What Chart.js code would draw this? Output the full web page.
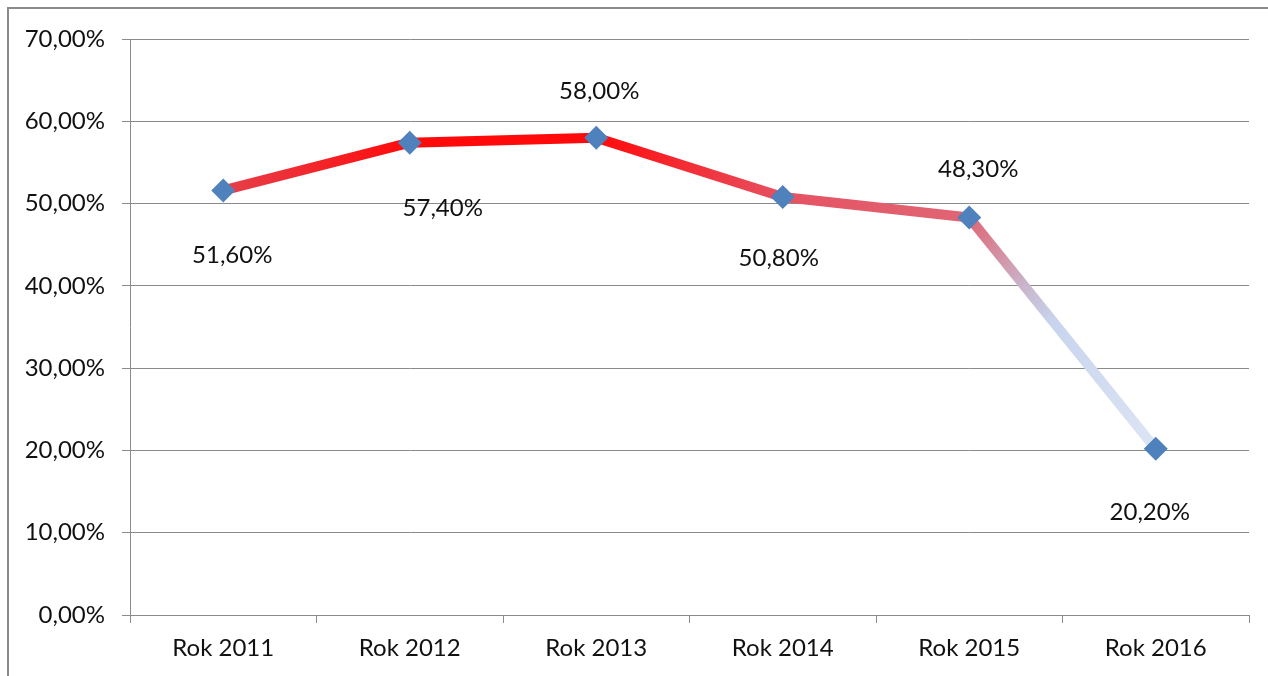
<!DOCTYPE html>
<html>
<head>
<meta charset="utf-8">
<script src="https://cdn.jsdelivr.net/npm/chart.js@4"></script>
<style>
  html, body { margin: 0; padding: 0; background: #fff; }
  #wrap { position: relative; width: 1268px; height: 676px; overflow: hidden; }
  #frame { position: absolute; left: 7px; top: 7px; width: 1300px; height: 700px; border: 2px solid #8a8a8a; }
  canvas { position: absolute; left: 0; top: 0; }
</style>
</head>
<body>
<div id="wrap">
  <div id="frame"></div>
  <canvas id="myChart" width="1268" height="676"></canvas>
</div>
<script>
const years = ['Rok 2011', 'Rok 2012', 'Rok 2013', 'Rok 2014', 'Rok 2015', 'Rok 2016'];
const values = [51.6, 57.4, 58.0, 50.8, 48.3, 20.2];
const yTicks = [0, 10, 20, 30, 40, 50, 60, 70];

// line colour at each point (Excel gradient line)
const lineColors = ['#e6404b', '#ff0a0a', '#ff0a0a', '#e65262', '#df6675', '#dde5f4'];
// where each value label sits, relative to its point
const labelShift = [[9, 65], [33, 66], [3, -46], [-4, 61], [9, -48], [-6, 63]];

const fmt = v => v.toFixed(2).replace('.', ',') + '%';
const FONT = 'Lato';

const ctx = document.getElementById('myChart');
const g2d = ctx.getContext('2d');

function segColor(c) {
    const i = c.p0DataIndex;
    const g = g2d.createLinearGradient(c.p0.x, c.p0.y, c.p1.x, c.p1.y);
    g.addColorStop(0, lineColors[i]);
    if (i === 4) {
        g.addColorStop(0.3, '#c9b6cc');
        g.addColorStop(0.45, '#c8d4ee');
    }
    g.addColorStop(1, lineColors[i + 1]);
    return g;
}

const valueLabels = {
    id: 'valueLabels',
    afterDatasetsDraw(chart) {
        const c = chart.ctx;
        const meta = chart.getDatasetMeta(0);
        c.save();
        c.font = '24px ' + FONT;
        c.fillStyle = '#111';
        c.textAlign = 'center';
        c.textBaseline = 'middle';
        meta.data.forEach((p, i) => {
            c.fillText(fmt(values[i]), p.x + labelShift[i][0], p.y + labelShift[i][1]);
        });
        c.restore();
    }
};

new Chart(ctx, {
    type: 'line',
    data: {
        labels: years,
        datasets: [{
            data: values,
            borderWidth: 10,
            borderColor: '#ff0a0a',
            segment: { borderColor: segColor },
            pointStyle: 'rectRot',
            pointRadius: 12,
            pointHoverRadius: 12,
            pointBackgroundColor: '#4f81bd',
            pointBorderColor: '#4f81bd',
            pointBorderWidth: 0,
            tension: 0
        }]
    },
    options: {
        responsive: false,
        animation: false,
        events: [],
        layout: { padding: { left: 0, top: 39, right: 19, bottom: 0 } },
        plugins: { legend: { display: false }, tooltip: { enabled: false } },
        scales: {
            x: {
                offset: true,
                grid: { offset: true, drawOnChartArea: false, drawTicks: true, tickLength: 8, color: '#8a8a8a', lineWidth: 1 },
                border: { color: '#8a8a8a', width: 1 },
                ticks: { font: { family: FONT, size: 24 }, color: '#111', padding: 11, maxRotation: 0 },
                afterFit: s => { s.height = 61; }
            },
            y: {
                min: 0,
                max: 70,
                afterBuildTicks: s => { s.ticks = yTicks.map(v => ({ value: v })); },
                grid: { color: '#8a8a8a', lineWidth: 1, tickLength: 8 },
                border: { color: '#8a8a8a', width: 1 },
                ticks: { font: { family: FONT, size: 24 }, color: '#111', padding: 17, callback: v => fmt(v) },
                afterFit: s => { s.width = 130; }
            }
        }
    },
    plugins: [valueLabels]
});
</script>
</body>
</html>
